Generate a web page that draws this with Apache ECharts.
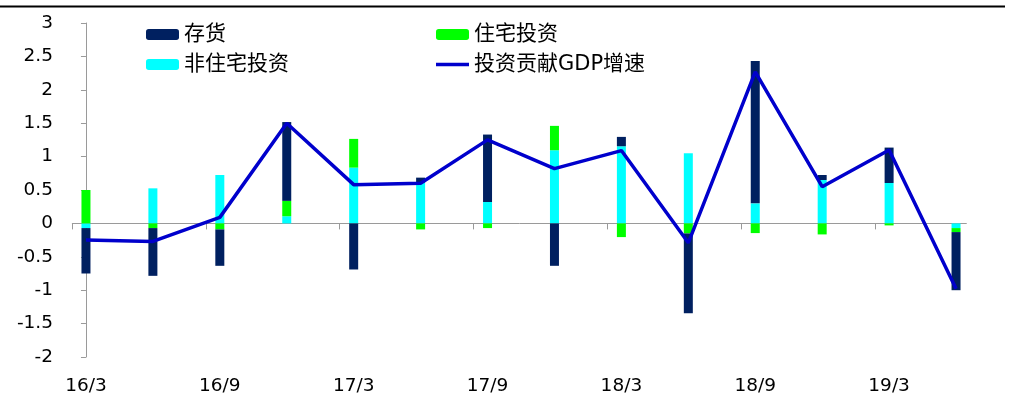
<!DOCTYPE html>
<html>
<head>
<meta charset="utf-8">
<script src="https://cdn.jsdelivr.net/npm/echarts@6/dist/echarts.min.js"></script>
<style>
  html, body { margin: 0; padding: 0; background: #fff; }
  #chart { width: 1012px; height: 398px; }
</style>
</head>
<body>
<div id="chart"></div>
<script>
// Quarterly contributions to GDP growth (percentage points)
const categories = ['16/3','16/6','16/9','16/12','17/3','17/6','17/9','17/12','18/3','18/6','18/9','18/12','19/3','19/6'];
const inventory      = [-0.68, -0.715, -0.545, 1.18, -0.69, 0.075, 1.01, -0.635, 0.14, -1.195, 2.13, 0.075, 0.53, -0.87];
const residential    = [0.5, -0.07, -0.09, 0.23, 0.43, -0.09, -0.07, 0.365, -0.205, -0.15, -0.145, -0.165, -0.03, -0.06];
const nonResidential = [-0.07, 0.525, 0.725, 0.107, 0.835, 0.61, 0.32, 1.095, 1.155, 1.05, 0.3, 0.65, 0.605, -0.07];
const contribution   = [-0.25, -0.27, 0.09, 1.5, 0.58, 0.6, 1.25, 0.82, 1.09, -0.29, 2.27, 0.55, 1.1, -0.98];
const yTicks = [3, 2.5, 2, 1.5, 1, 0.5, 0, -0.5, -1, -1.5, -2];

const names = { inv: '存货', res: '住宅投资', non: '非住宅投资', line: '投资贡献GDP增速' };

// The zero axis runs from just left of the first bar to just right of the last one;
// these are its ends in category-index units, with a tick every two quarters.
const axisStart = -0.21, axisEnd = 13.16;
const tickPos = [];
for (let t = axisStart; t < axisEnd; t += 2) tickPos.push(+t.toFixed(2));

const font = '"DejaVu Sans", "Liberation Sans", sans-serif';
const cjk = '"DejaVu Sans", "Noto Sans CJK SC", sans-serif';
const axisGray = '#9a9a9a';

const chart = echarts.init(document.getElementById('chart'));
chart.setOption({
  animation: false,
  backgroundColor: '#fff',
  grid: { left: 52.5, right: 22.5, top: 23, bottom: 41 },
  legend: [
    {
      data: [names.inv, names.non], orient: 'vertical', left: 146, top: 24, padding: 0,
      itemWidth: 33, itemHeight: 11, itemGap: 9,
      textStyle: { fontFamily: cjk, fontSize: 21, color: '#000' }
    },
    {
      data: [names.res, { name: names.line, icon: 'path://M0 0 H33 V3.5 H0 Z' }],
      orient: 'vertical', left: 436, top: 24, padding: 0,
      itemWidth: 33, itemHeight: 11, itemGap: 9, symbolKeepAspect: true,
      textStyle: { fontFamily: cjk, fontSize: 21, color: '#000' }
    }
  ],
  xAxis: [
    {
      type: 'category', data: categories, boundaryGap: true, position: 'bottom',
      axisLine: { show: false, onZero: false },
      axisTick: { show: false },
      axisLabel: { interval: 1, margin: 20, fontFamily: font, fontSize: 18.5, color: '#000' },
      splitLine: { show: false }
    },
    {
      // same index scale as the categories, used for the tick marks on the zero line
      type: 'value', min: -0.5, max: categories.length - 0.5, position: 'bottom',
      axisLine: { show: false, onZero: true },
      axisTick: { show: true, length: 6, customValues: tickPos, lineStyle: { color: axisGray } },
      axisLabel: { show: false },
      splitLine: { show: false }
    }
  ],
  yAxis: {
    type: 'value', min: -2, max: 3, interval: 0.5, offset: -19.5,
    axisLine: { show: true, lineStyle: { color: axisGray } },
    axisTick: { show: true, length: 5, lineStyle: { color: axisGray } },
    axisLabel: {
      margin: 19, fontFamily: font, fontSize: 18.5, color: '#000',
      customValues: yTicks, formatter: v => String(v)
    },
    splitLine: { show: false }
  },
  series: [
    { name: names.non, type: 'bar', stack: 'total', barWidth: 9,
      itemStyle: { color: '#00FFFF' }, data: nonResidential },
    { name: names.res, type: 'bar', stack: 'total', barWidth: 9,
      itemStyle: { color: '#00FF00' }, data: residential },
    { name: names.inv, type: 'bar', stack: 'total', barWidth: 9,
      itemStyle: { color: '#002060' }, data: inventory },
    { name: names.line, type: 'line', symbol: 'none', z: 5,
      lineStyle: { color: '#0000CC', width: 3.5 }, itemStyle: { color: '#0000CC' },
      data: contribution }
  ]
});

// Zero line and top rule, placed through the chart's own coordinate system
const finder = { xAxisIndex: 1, yAxisIndex: 0 };
const z0 = chart.convertToPixel(finder, [axisStart, 0]);
const z1 = chart.convertToPixel(finder, [axisEnd, 0]);
chart.setOption({
  graphic: [
    { type: 'line', shape: { x1: 0, y1: 6.5, x2: 1005, y2: 6.5 },
      style: { stroke: '#000', lineWidth: 2 }, silent: true },
    { type: 'line', z: 1, shape: { x1: z0[0], y1: Math.round(z0[1]) + 0.5, x2: z1[0], y2: Math.round(z1[1]) + 0.5 },
      style: { stroke: axisGray, lineWidth: 1 }, silent: true }
  ]
});
</script>
</body>
</html>
